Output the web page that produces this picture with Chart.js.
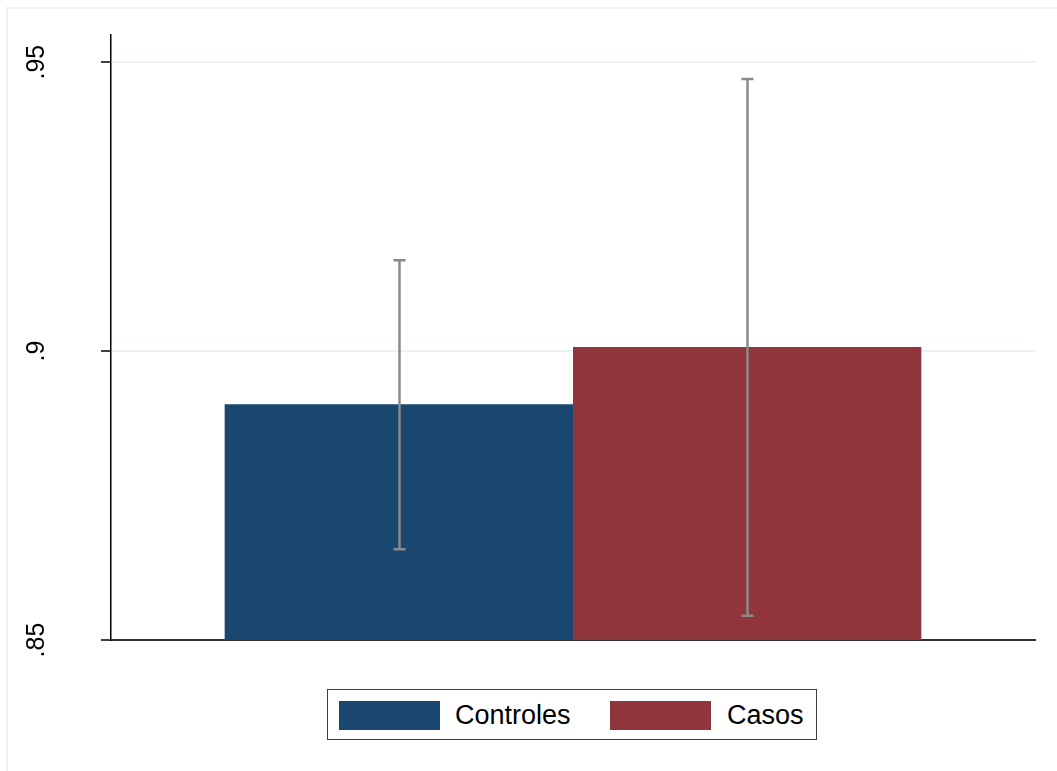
<!DOCTYPE html>
<html>
<head>
<meta charset="utf-8">
<script src="https://cdn.jsdelivr.net/npm/chart.js@4"></script>
<style>
  body { margin: 0; background: #fff; }
  #wrap { position: relative; width: 1057px; height: 771px; overflow: hidden; }
  #frame { position: absolute; left: 6px; top: 7px; width: 1100px; height: 800px; border: 2px solid #eaf2f3; }
  canvas { position: absolute; left: 0; top: 0; }
  #legend { position: absolute; left: 327px; top: 689px; width: 488px; height: 49px; border: 1.5px solid #404040; background: #fff;
            font-family: Arial, "Liberation Sans", sans-serif; font-size: 27px; line-height: 27px; color: #000; }
  #legend .sw { position: absolute; top: 11px; width: 101px; height: 29px; }
  #legend .tx { position: absolute; top: 12px; }
</style>
</head>
<body>
<div id="wrap">
  <div id="frame"></div>
  <canvas id="barChart" width="1057" height="771"></canvas>
  <div id="legend"></div>
</div>
<script>
// group names and colours (Stata s2color)
const categories = ['Controles', 'Casos'];
const barColors = ['#1a476f', '#90353b'];

// mean and confidence interval
const means = [0.8908, 0.9007];
const ciLow = [0.8657, 0.8542];
const ciHigh = [0.9157, 0.9471];

// y axis
const yMin = 0.85;
const yMax = 0.9547;
const tickValues = [0.85, 0.90, 0.95];
const tickLabels = ['.85', '.9', '.95'];

// draws the vertical error bars with caps
const errorBars = {
    id: 'errorBars',
    afterDatasetsDraw(chart) {
        const ctx = chart.ctx;
        const y = chart.scales.y;
        ctx.save();
        ctx.strokeStyle = '#8a8a8a';
        ctx.lineWidth = 2.5;
        chart.data.datasets.forEach((ds, i) => {
            const bar = chart.getDatasetMeta(i).data[0];
            const x = Math.round(bar.x) + 0.5;
            const top = y.getPixelForValue(ciHigh[i]);
            const bot = y.getPixelForValue(ciLow[i]);
            ctx.beginPath();
            ctx.moveTo(x, top); ctx.lineTo(x, bot);
            ctx.moveTo(x - 6, top); ctx.lineTo(x + 6, top);
            ctx.moveTo(x - 6, bot); ctx.lineTo(x + 6, bot);
            ctx.stroke();
        });
        ctx.restore();
    }
};

// rotated y tick labels (text reads bottom to top)
const yLabels = {
    id: 'yLabels',
    afterDraw(chart) {
        const ctx = chart.ctx;
        const y = chart.scales.y;
        ctx.save();
        ctx.fillStyle = '#000';
        ctx.font = '25px Arial, "Liberation Sans", sans-serif';
        ctx.textAlign = 'center';
        ctx.textBaseline = 'alphabetic';
        tickValues.forEach((v, i) => {
            ctx.save();
            ctx.translate(44, y.getPixelForValue(v));
            ctx.rotate(-Math.PI / 2);
            ctx.fillText(tickLabels[i], 0, 0);
            ctx.restore();
        });
        ctx.restore();
    }
};

const myBarChart = new Chart(document.getElementById('barChart'), {
    type: 'bar',
    data: {
        labels: [''],
        datasets: categories.map((c, i) => ({
            label: c,
            data: [means[i]],
            backgroundColor: barColors[i],
            borderWidth: 0,
            categoryPercentage: 0.754,
            barPercentage: 1.0
        }))
    },
    options: {
        responsive: false,
        devicePixelRatio: 1,
        animation: false,
        layout: { padding: { left: 0, top: 35, right: 22, bottom: 131 } },
        scales: {
            x: {
                grid: { display: false },
                ticks: { display: false },
                border: { display: true, color: '#333333', width: 2 },
                afterFit: s => { s.height = 0; }
            },
            y: {
                min: yMin,
                max: yMax,
                afterBuildTicks: s => { s.ticks = tickValues.map(v => ({ value: v })); },
                ticks: { display: false },
                grid: {
                    color: ctx => ctx.tick && ctx.tick.value === yMin ? 'rgba(0,0,0,0)' : '#eaf2f3',
                    lineWidth: 2,
                    drawTicks: true,
                    tickLength: 10,
                    tickColor: '#000',
                    tickWidth: 1.5
                },
                border: { display: true, color: '#000', width: 1.5 },
                afterFit: s => { s.width = 111; }
            }
        },
        plugins: {
            legend: { display: false },
            tooltip: { enabled: false }
        }
    },
    plugins: [errorBars, yLabels]
});

// legend built from the same names and colours
const legend = document.getElementById('legend');
const swX = [11, 282];
const txX = [127, 399];
categories.forEach((c, i) => {
    const sw = document.createElement('div');
    sw.className = 'sw';
    sw.style.left = swX[i] + 'px';
    sw.style.background = barColors[i];
    legend.appendChild(sw);
    const tx = document.createElement('span');
    tx.className = 'tx';
    tx.style.left = txX[i] + 'px';
    tx.textContent = c;
    legend.appendChild(tx);
});
</script>
</body>
</html>
